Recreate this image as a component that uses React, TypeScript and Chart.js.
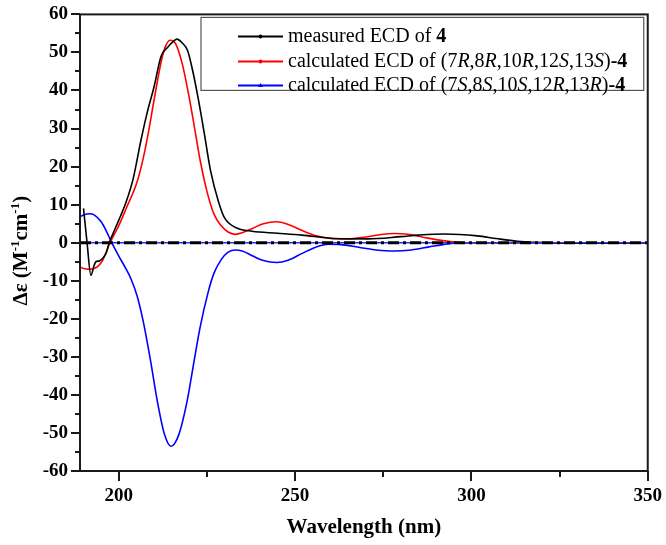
import React, { useEffect, useRef } from 'react';
import { Chart, registerables } from 'chart.js';

Chart.register(...registerables);

// ---- data ----
const measuredX = [190, 191, 192.1, 193, 193.5, 194.5, 195.8, 196.5, 197.3, 199, 200.5, 202, 204, 206.3, 208, 210, 212, 214, 215, 216.5, 218, 219.5, 221, 222.5, 224.2, 226, 228.3, 230, 233.1, 237.8, 245, 251.9, 261.2, 270.7, 280, 285, 292.3, 301.7, 307, 313, 318, 326.6, 335, 350];
const measuredY = [9, 0, -8.6, -6, -5, -4.8, -3.7, -2.5, 0, 3.8, 7, 10.5, 16.5, 27, 34, 41, 49, 51.5, 52.5, 53.5, 52.5, 50.5, 45, 38, 29, 19, 10.7, 6.5, 4, 3, 2.5, 2, 1.1, 1.0, 1.6, 2, 2.3, 1.8, 1.1, 0.4, 0.1, -0.1, -0.1, 0];

const calcRX = [189, 190, 191.8, 194, 195.5, 197.5, 200, 202, 205.2, 207, 208.4, 210, 212, 213, 214.5, 216, 218, 220, 221.7, 223, 225, 227, 229, 231, 233, 235, 238, 241, 244.8, 248, 252, 256, 260, 265, 270, 275, 278, 282, 286, 290, 294, 297, 300, 350];
const calcRY = [-6.3, -6.8, -7, -6.3, -4.5, 0, 4.5, 8.8, 16, 22.5, 29, 37.5, 47.5, 51, 53.2, 52.5, 47, 38, 29, 22, 13.5, 7.5, 4.5, 2.8, 2.2, 2.6, 3.8, 5, 5.5, 4.8, 3.2, 1.8, 1.1, 1.0, 1.5, 2.2, 2.4, 2.2, 1.5, 0.8, 0.3, 0.05, 0, 0];

const calcSX = [189, 190, 191.8, 193, 195, 196.5, 198, 200, 202, 203.5, 205.2, 207, 209, 211, 213, 214.8, 217, 219.4, 221, 223, 225.4, 227, 229, 231, 233, 235, 238, 241, 244.8, 248, 252, 256, 259.4, 263, 268, 273, 278, 283, 288, 292, 297, 350];
const calcSY = [6.8, 7.3, 7.6, 7.3, 5.5, 3, 0, -3.5, -6.8, -9.6, -14, -21, -31, -42, -50.5, -53.5, -50.5, -41.5, -33, -22.5, -12.8, -8, -4.5, -2.5, -1.9, -2.2, -3.5, -4.7, -5.2, -4.6, -2.8, -1.1, -0.4, -0.5, -1.2, -1.9, -2.2, -1.9, -1.1, -0.5, 0, 0];

const baselineX = [189, 350];
const baselineY = [0, 0];

const xMajorTicks = [200, 250, 300, 350];
const xMinorTicks = [225, 275, 325];
const yTicks = [-60, -50, -40, -30, -20, -10, 0, 10, 20, 30, 40, 50, 60];
const yMinorTicks = [-55, -45, -35, -25, -15, -5, 5, 15, 25, 35, 45, 55];

const seriesLabels = [
  'measured ECD of 4',
  'calculated ECD of (7R,8R,10R,12S,13S)-4',
  'calculated ECD of (7S,8S,10S,12R,13R)-4',
];
// rich-text segments for legend: [text, style]
const legendRich: [string, string][][] = [
  [['measured ECD of ', 'n'], ['4', 'b']],
  [['calculated ECD of (7', 'n'], ['R', 'i'], [',8', 'n'], ['R', 'i'], [',10', 'n'], ['R', 'i'], [',12', 'n'], ['S', 'i'], [',13', 'n'], ['S', 'i'], [')', 'n'], ['-4', 'b']],
  [['calculated ECD of (7', 'n'], ['S', 'i'], [',8', 'n'], ['S', 'i'], [',10', 'n'], ['S', 'i'], [',12', 'n'], ['R', 'i'], [',13', 'n'], ['R', 'i'], [')', 'n'], ['-4', 'b']],
];
const legendColors = ['#000000', '#ff0000', '#0000ff'];

const SERIF = '"Liberation Serif", "Times New Roman", serif';

const toPts = (xs: number[], ys: number[]) => xs.map((x, i) => ({ x, y: ys[i] }));

const decorPlugin = {
  id: 'decor',
  afterDraw(chart: any) {
    const { ctx, chartArea: a, scales } = chart;
    const xs = scales.x;
    const ys = scales.y;
    ctx.save();
    // frame
    ctx.strokeStyle = '#1a1a1a';
    ctx.lineWidth = 2;
    ctx.strokeRect(a.left, a.top, a.right - a.left, a.bottom - a.top);
    // ticks
    ctx.beginPath();
    yTicks.forEach((v) => {
      const p = Math.round(ys.getPixelForValue(v));
      ctx.moveTo(a.left - 9, p);
      ctx.lineTo(a.left, p);
    });
    yMinorTicks.forEach((v) => {
      const p = Math.round(ys.getPixelForValue(v));
      ctx.moveTo(a.left - 5, p);
      ctx.lineTo(a.left, p);
    });
    xMajorTicks.forEach((v) => {
      const p = Math.round(xs.getPixelForValue(v));
      ctx.moveTo(p, a.bottom);
      ctx.lineTo(p, a.bottom + 10);
    });
    xMinorTicks.forEach((v) => {
      const p = Math.round(xs.getPixelForValue(v));
      ctx.moveTo(p, a.bottom);
      ctx.lineTo(p, a.bottom + 6);
    });
    ctx.stroke();

    // y-axis title with superscripts
    ctx.save();
    const cx = 20;
    const cy = (a.top + a.bottom) / 2 + 8;
    ctx.translate(cx, cy);
    ctx.rotate(-Math.PI / 2);
    const big = `bold 21px ${SERIF}`;
    const small = `bold 13px ${SERIF}`;
    const segs: [string, boolean][] = [['Δε (M', false], ['-1', true], ['cm', false], ['-1', true], [')', false]];
    let total = 0;
    segs.forEach(([t, sup]) => { ctx.font = sup ? small : big; total += ctx.measureText(t).width; });
    let x0 = -total / 2;
    ctx.fillStyle = '#000';
    ctx.textBaseline = 'alphabetic';
    segs.forEach(([t, sup]) => {
      ctx.font = sup ? small : big;
      ctx.fillText(t, x0, sup ? -1 : 7);
      x0 += ctx.measureText(t).width;
    });
    ctx.restore();

    // legend box
    const lx = a.left + 121;
    const ly = a.top + 3;
    const lr = a.right - 4;
    const lb = a.top + 76;
    ctx.strokeStyle = '#555';
    ctx.lineWidth = 1.2;
    ctx.strokeRect(lx, ly, lr - lx, lb - ly);
    const rowsY = [a.top + 22, a.top + 47, a.top + 71];
    legendRich.forEach((segsL, i) => {
      const y = rowsY[i];
      ctx.strokeStyle = legendColors[i];
      ctx.lineWidth = 2;
      ctx.beginPath();
      ctx.moveTo(lx + 37, y);
      ctx.lineTo(lx + 82, y);
      ctx.stroke();
      ctx.fillStyle = legendColors[i];
      ctx.beginPath();
      if (i === 2) {
        ctx.moveTo(lx + 59.5, y - 2.5);
        ctx.lineTo(lx + 62, y + 1.5);
        ctx.lineTo(lx + 57, y + 1.5);
        ctx.closePath();
      } else {
        ctx.arc(lx + 59.5, y, 2, 0, Math.PI * 2);
      }
      ctx.fill();
      let tx = lx + 87;
      ctx.fillStyle = '#000';
      ctx.textBaseline = 'middle';
      segsL.forEach(([t, st]) => {
        ctx.font = st === 'b' ? `bold 20px ${SERIF}` : st === 'i' ? `italic 20px ${SERIF}` : `20px ${SERIF}`;
        ctx.fillText(t, tx, y);
        tx += ctx.measureText(t).width;
      });
    });
    ctx.restore();
  },
};

export default function App() {
  const ref = useRef<HTMLCanvasElement | null>(null);
  useEffect(() => {
    document.body.style.margin = '0';
    const canvas = ref.current!;
    const chart = new Chart(canvas, {
      type: 'line',
      data: {
        datasets: [
          {
            label: 'baseline',
            data: toPts(baselineX, baselineY),
            borderColor: '#000',
            borderWidth: 3,
            borderDash: [11, 4, 3, 4],
            pointRadius: 0,
            order: 0,
          },
          {
            label: 'baseline-blue',
            data: toPts(baselineX, baselineY),
            borderColor: '#2233ff',
            borderWidth: 1.5,
            pointRadius: 0,
            order: 1,
          },
          {
            label: seriesLabels[0],
            data: toPts(measuredX, measuredY),
            borderColor: '#000',
            borderWidth: 1.6,
            pointRadius: 0,
            cubicInterpolationMode: 'monotone',
            order: 2,
          },
          {
            label: seriesLabels[1],
            data: toPts(calcRX, calcRY),
            borderColor: '#ff0000',
            borderWidth: 1.6,
            pointRadius: 0,
            cubicInterpolationMode: 'monotone',
            order: 3,
          },
          {
            label: seriesLabels[2],
            data: toPts(calcSX, calcSY),
            borderColor: '#0000ff',
            borderWidth: 1.6,
            pointRadius: 0,
            cubicInterpolationMode: 'monotone',
            order: 4,
          },
        ],
      },
      options: {
        responsive: false,
        animation: false,
        devicePixelRatio: 1,
        layout: { padding: { top: 10, right: 15, left: 0, bottom: 0 } },
        plugins: { legend: { display: false }, tooltip: { enabled: false } },
        scales: {
          x: {
            type: 'linear',
            min: 189,
            max: 350,
            border: { display: false },
            grid: { display: true, drawOnChartArea: false, drawTicks: true, tickLength: 10, color: 'rgba(0,0,0,0)' },
            afterBuildTicks: (s: any) => { s.ticks = xMajorTicks.map((v) => ({ value: v })); },
            afterFit: (s: any) => { s.height = 74; },
            ticks: {
              autoSkip: false,
              maxRotation: 0,
              padding: 4,
              color: '#000',
              font: { family: SERIF, size: 19, weight: 'bold' },
            },
            title: {
              display: true,
              text: 'Wavelength (nm)',
              color: '#000',
              font: { family: SERIF, size: 21, weight: 'bold' },
              padding: { top: 0, bottom: 5 },
            },
          },
          y: {
            type: 'linear',
            min: -60,
            max: 60,
            border: { display: false },
            grid: { display: true, drawOnChartArea: false, drawTicks: true, tickLength: 9, color: 'rgba(0,0,0,0)' },
            afterBuildTicks: (s: any) => { s.ticks = yTicks.map((v) => ({ value: v })); },
            afterFit: (s: any) => { s.width = 80; },
            ticks: {
              autoSkip: false,
              padding: 3,
              color: '#000',
              font: { family: SERIF, size: 19, weight: 'bold' },
            },
          },
        },
      },
      plugins: [decorPlugin],
    } as any);
    return () => chart.destroy();
  }, []);
  return (
    <div style={{ width: 666, height: 545 }}>
      <canvas ref={ref} width={666} height={545} style={{ display: 'block' }} />
    </div>
  );
}
